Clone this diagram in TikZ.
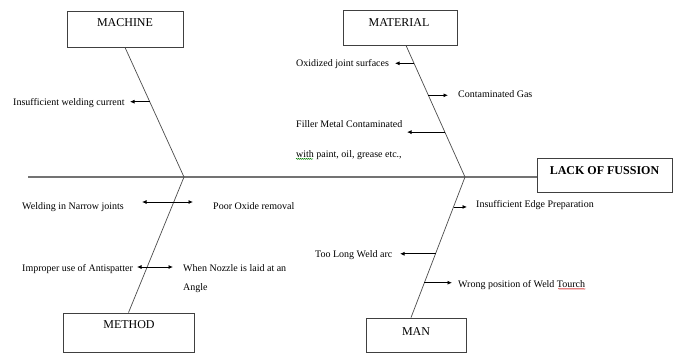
\documentclass[tikz,border=0pt]{standalone}
\usepackage{fontspec}
\setmainfont{Liberation Serif}
\usetikzlibrary{arrows.meta,decorations.pathmorphing,calc}
\begin{document}
\begin{tikzpicture}[x=1pt,y=-1pt,
  catbox/.style={draw=black!75, line width=0.8pt, inner sep=0pt},
  cattext/.style={font=\fontsize{12}{14}\selectfont, inner sep=0pt},
  lbl/.style={font=\fontsize{10}{12}\selectfont, inner sep=0pt, anchor=base west},
  bone/.style={draw=black!70, line width=0.7pt},
  spine/.style={draw=black!55, line width=1.3pt},
  arr/.style={draw=black, line width=0.8pt, -{Latex[length=4.5pt,width=4pt]}},
  darr/.style={draw=black, line width=0.8pt, {Latex[length=4.5pt,width=4pt]}-{Latex[length=4.5pt,width=4pt]}},
  squig/.style={decorate, decoration={snake, amplitude=0.5pt, segment length=2pt}, line width=0.4pt}
]
\useasboundingbox (0,0) rectangle (678,354);
\fill[white] (0,0) rectangle (678,354);

% category boxes
\node[catbox, minimum width=116pt, minimum height=36pt] (machine) at (125,29) {};
\node[cattext] (machineT) at (125,23) {MACHINE};
\node[catbox, minimum width=114pt, minimum height=35pt] (material) at (400,27.5) {};
\node[cattext] (materialT) at (399,23) {MATERIAL};
\node[catbox, minimum width=131pt, minimum height=39pt] (method) at (128.5,332.5) {};
\node[cattext] (methodT) at (129,325) {METHOD};
\node[catbox, minimum width=100pt, minimum height=34pt] (man) at (416,335) {};
\node[cattext] (manT) at (416,332) {MAN};
\node[catbox, minimum width=135pt, minimum height=34pt] (lack) at (604.5,175) {};
\node[cattext, font=\fontsize{12}{14}\selectfont\bfseries] (lackT) at (604.5,170.5) {LACK OF FUSSION};

% spine and bones
\coordinate (sL) at (28,177);
\coordinate (jL) at (184,177);
\coordinate (jR) at (465,177);
\draw[spine] (sL) -- (sL -| lack.west);
\draw[bone] (machine.south) -- (jL);
\draw[bone] ([xshift=6pt]material.south) -- (jR);
\draw[bone] (jL) -- (method.north);
\draw[bone] (jR) -- ([xshift=-5pt]man.north);

% points on bones
\path (machine.south) -- (jL) coordinate[pos=0.419] (b1);
\path ([xshift=6pt]material.south) -- (jR)
  coordinate[pos=0.136] (b2)
  coordinate[pos=0.379] (b3)
  coordinate[pos=0.659] (b4);
\path (jR) -- ([xshift=-5pt]man.north)
  coordinate[pos=0.213] (b5)
  coordinate[pos=0.546] (b6)
  coordinate[pos=0.752] (b7);

% labels
\node[lbl] (l1) at (13,105) {Insufficient welding current};
\node[lbl] (l2) at (296,66.5) {Oxidized joint surfaces};
\node[lbl] (l3) at (458,97) {Contaminated Gas};
\node[lbl] (l4) at (296,127.5) {Filler Metal Contaminated};
\node[lbl] (l5) at (296,157.5) {with paint, oil, grease etc.,};
\node[lbl] (l6) at (22,209.5) {Welding in Narrow joints};
\node[lbl] (l7) at (213,209.5) {Poor Oxide removal};
\node[lbl] (l8) at (22,271) {Improper use of Antispatter};
\node[lbl] (l9) at (183,271) {When Nozzle is laid at an};
\node[lbl] (l9b) at (183,290.5) {Angle};
\node[lbl] (l10) at (476,207.5) {Insufficient Edge Preparation};
\node[lbl] (l11) at (315,257.5) {Too Long Weld arc};
\node[lbl] (l12) at (458,287.5) {Wrong position of Weld Tourch};

% arrow tips
\coordinate (t1) at (130,0);
\coordinate (t2) at (395,0);
\coordinate (t3) at (448,0);
\coordinate (t4) at (407,0);
\coordinate (t5) at (467,0);
\coordinate (t6) at (400,0);
\coordinate (t7) at (452,0);
\coordinate (d1a) at (142,202);
\coordinate (d1b) at (193,202);
\coordinate (d2a) at (137,267);
\coordinate (d2b) at (173,267);

\draw[arr] (b1) -- (t1 |- b1);
\draw[arr] (b2) -- (t2 |- b2);
\draw[arr] (b3) -- (t3 |- b3);
\draw[arr] (b4) -- (t4 |- b4);
\draw[arr] (b5) -- (t5 |- b5);
\draw[arr] (b6) -- (t6 |- b6);
\draw[arr] (b7) -- (t7 |- b7);
\draw[darr] (d1a) -- (d1b);
\draw[darr] (d2a) -- (d2b);

% spell-check marks
\draw[squig, green!50!black] ([yshift=1pt]l5.south west) -- ++(17,0);
\draw[squig, red!80!black] ([yshift=1pt,xshift=-27pt]l12.south east) -- ([yshift=1pt]l12.south east);
\end{tikzpicture}
\end{document}
